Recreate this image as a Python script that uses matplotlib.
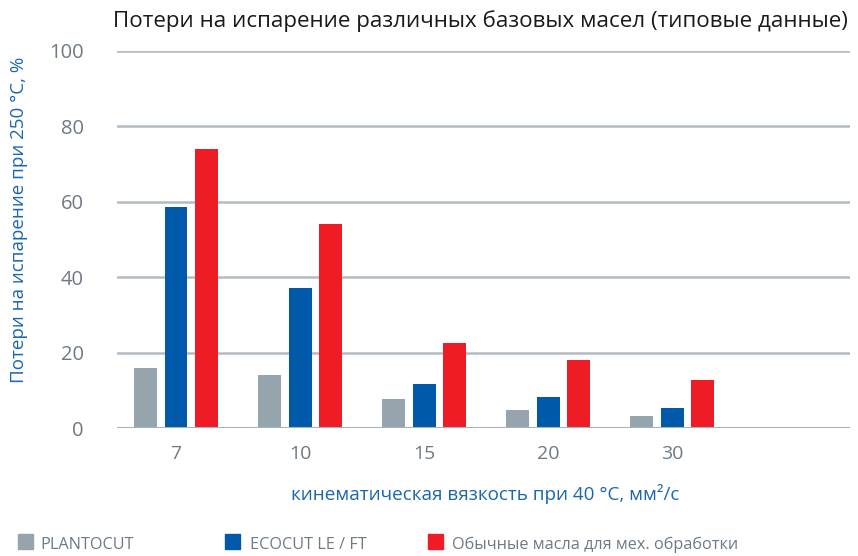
import matplotlib
matplotlib.use("Agg")
import matplotlib.pyplot as plt
from matplotlib.patches import Rectangle
import numpy as np

categories = ["7", "10", "15", "20", "30"]
plantocut = [15.9, 14.1, 7.7, 4.8, 3.2]
ecocut = [58.5, 37.2, 11.7, 8.2, 5.3]
conventional = [74.1, 54.2, 22.5, 18.0, 12.7]
series_names = ["PLANTOCUT", "ECOCUT LE / FT", "Обычные масла для мех. обработки"]
colors = ["#96a4ad", "#0059a9", "#ee1c25"]
yticks = [0, 20, 40, 60, 80, 100]

plt.rcParams['font.family'] = ['Open Sans', 'DejaVu Sans']

fig = plt.figure(figsize=(8.58, 5.56), dpi=100)
W, H = 858, 556
ax = fig.add_axes([117 / W, 1 - 428 / H, (850 - 117) / W, (428 - 51) / H])

x = np.arange(len(categories))
bw = 0.185
off = 0.247
for i, (vals, c) in enumerate(zip([plantocut, ecocut, conventional], colors)):
    ax.bar(x + (i - 1) * off, vals, width=bw, color=c, zorder=3)

ax.set_xlim(-0.476, 5.435)
ax.set_ylim(0, 100)
ax.set_yticks(yticks)
ax.set_yticklabels([str(t) for t in yticks], color="#6d7a85", fontsize=14.5)
ax.set_xticks(x)
ax.set_xticklabels(categories, color="#6d7a85", fontsize=14)
ax.tick_params(axis='both', length=0)
ax.tick_params(axis='y', pad=24)
ax.tick_params(axis='x', pad=12)
for s in ax.spines.values():
    s.set_visible(False)
ax.yaxis.grid(True, color="#b3bcc3", linewidth=1.8, zorder=0)
ax.set_axisbelow(True)
ax.axhline(0, color="#a7b2ba", linewidth=2.2, zorder=4)

fig.text(480 / W, 1 - 21 / H, "Потери на испарение различных базовых масел (типовые данные)",
         ha="center", va="center", fontsize=16.1, color="#1a1a1a")
fig.text(19 / W, 1 - 220 / H, "Потери на испарение при 250 °С, %", rotation=90,
         ha="center", va="center", fontsize=13.5, color="#1a66b0")
fig.text(485 / W, 1 - 494 / H, "кинематическая вязкость при 40 °С, мм²/с",
         ha="center", va="center", fontsize=13.6, color="#1a66b0")

sq_x = [18, 225, 428]
tx_x = [40, 250, 452]
for name, c, sx, tx in zip(series_names, colors, sq_x, tx_x):
    fig.patches.append(Rectangle((sx / W, 1 - 549 / H), 15 / W, 15 / H,
                                 transform=fig.transFigure, color=c))
    fig.text(tx / W, 1 - 545 / H, name, ha="left", va="center",
             fontsize=11.7, color="#6d7a85")

fig.savefig("out.png", dpi=100)
